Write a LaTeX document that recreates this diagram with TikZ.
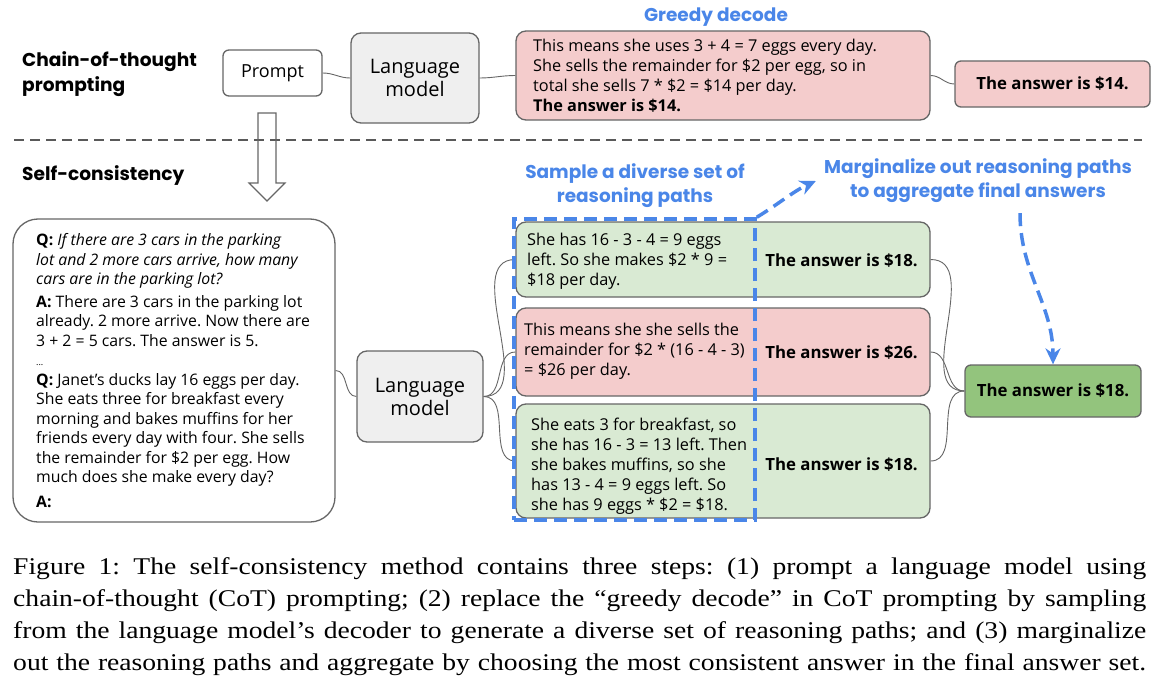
\documentclass[tikz,border=0pt]{standalone}
\usepackage{fontspec}
\setmainfont{Liberation Serif}
\setsansfont{Open Sans}
\newfontfamily\headfont{Poppins}
\newfontfamily\capfont[Ligatures=TeX, FakeStretch=1.15]{Liberation Serif}
\usetikzlibrary{arrows.meta}
\frenchspacing

\definecolor{pinkbox}{HTML}{F4CCCC}
\definecolor{greenbox}{HTML}{D9EAD3}
\definecolor{darkgreen}{HTML}{93C47D}
\definecolor{lmgray}{HTML}{EFEFEF}
\definecolor{edgegray}{HTML}{666666}
\definecolor{gblue}{HTML}{4A86E8}

\begin{document}
\begin{tikzpicture}[
      x=1pt, y=-1pt,
      font=\sffamily,
      every node/.style={inner sep=0pt},
      box/.style={draw=edgegray, line width=1.3pt, rounded corners=10pt},
      lmbox/.style={box, fill=lmgray, align=center, font=\sffamily\fontsize{20}{23}\selectfont},
      ansbox/.style={box, rounded corners=6pt, font=\sffamily\bfseries\fontsize{16.8}{20}\selectfont},
      bodytext/.style={anchor=west, align=left, font=\sffamily\fontsize{16.3}{20}\selectfont},
      anstext/.style={font=\sffamily\bfseries\fontsize{16.8}{20}\selectfont},
      heading/.style={anchor=west, align=left, font=\headfont\bfseries\fontsize{18.6}{25}\selectfont},
      bluelabel/.style={align=center, text=gblue, font=\headfont\bfseries\fontsize{18.5}{24}\selectfont},
      link/.style={draw=edgegray, line width=0.9pt},
      sepline/.style={draw=black!65, line width=1.8pt, dash pattern=on 10pt off 6pt},
      sampbox/.style={draw=gblue, line width=3.5pt, dash pattern=on 13pt off 7pt},
      bluearrow/.style={draw=gblue, line width=3.5pt, dash pattern=on 13pt off 7pt, -{Stealth[length=16pt,width=15pt]}},
      captext/.style={anchor=base west, font=\capfont\fontsize{24}{32}\selectfont}
    ]
      \useasboundingbox (0,0) rectangle (1154,685);

      % chain-of-thought row
      \node[heading] (cotlbl) at (22,74) {Chain-of-thought\\prompting};
      \node[box, fill=white, rounded corners=6pt, minimum width=99pt, minimum height=46pt,
        font=\sffamily\fontsize{18}{22}\selectfont] (prompt) at (272.5,73) {Prompt};
      \node[lmbox, minimum width=128pt, minimum height=90pt] (lmtop) at (415,78) {Language\\model};
      \node[bluelabel] (greedylbl) at (716,17) {Greedy decode};
      \node[box, fill=pinkbox, minimum width=414pt, minimum height=89pt] (greedy) at (723,75.5) {};
      \node[bodytext] (greedytxt) at (533,75.5)
        {This means she uses 3 + 4 = 7 eggs every day.\\
         She sells the remainder for \$2 per egg, so in\\
         total she sells 7 * \$2 = \$14 per day.\\
         \textbf{The answer is \$14.}};
      \node[ansbox, fill=pinkbox, minimum width=195pt, minimum height=46pt] (anstop) at (1052.5,84) {The answer is \$14.};

      \draw[link] (prompt.east) to[out=0,in=180] (lmtop.west);
      \draw[link] (lmtop.east) to[out=0,in=180] (greedy.west);
      \draw[link] (greedy.east) to[out=0,in=180] (anstop.west);

      \draw[sepline] (14,140) -- (1142,140);
      \draw[edgegray, line width=1.2pt]
        (258,113) -- (276,113) -- (276,183) -- (285,183) -- (267,201)
        -- (249,183) -- (258,183) -- cycle;

      % self-consistency row
      \node[heading] (sclbl) at (22,176) {Self-consistency};
      \node[box, fill=white, rounded corners=25pt, minimum width=322pt, minimum height=303pt] (question) at (174,370.5) {};
      \node[bodytext, font=\sffamily\fontsize{15.8}{19.5}\selectfont] (qtext) at (36,370.5)
        {\textbf{Q:} \textit{If there are 3 cars in the parking}\\
         \textit{lot and 2 more cars arrive, how many}\\
         \textit{cars are in the parking lot?}\\[3pt]
         \textbf{A:} There are 3 cars in the parking lot\\
         already. 2 more arrive. Now there are\\
         3 + 2 = 5 cars. The answer is 5.\\
         {\fontsize{9}{10}\selectfont ...}\\
         \textbf{Q:} Janet’s ducks lay 16 eggs per day.\\
         She eats three for breakfast every\\
         morning and bakes muffins for her\\
         friends every day with four. She sells\\
         the remainder for \$2 per egg. How\\
         much does she make every day?\\[5pt]
         \textbf{A:}};
      \node[lmbox, minimum width=126pt, minimum height=91pt] (lmbot) at (420,396.5) {Language\\model};

      \node[box, fill=greenbox, minimum width=414pt, minimum height=75pt] (path1) at (723,259.5) {};
      \node[box, fill=pinkbox, minimum width=414pt, minimum height=88pt] (path2) at (723,352) {};
      \node[box, fill=greenbox, minimum width=414pt, minimum height=114pt] (path3) at (723,461) {};
      \node[bodytext] (path1txt) at (527,261.5)
        {She has 16 - 3 - 4 = 9 eggs\\
         left. So she makes \$2 * 9 =\\
         \$18 per day.};
      \node[bodytext] (path2txt) at (524,351.5)
        {This means she she sells the\\
         remainder for \$2 * (16 - 4 - 3)\\
         = \$26 per day.};
      \node[bodytext] (path3txt) at (531,466)
        {She eats 3 for breakfast, so\\
         she has 16 - 3 = 13 left. Then\\
         she bakes muffins, so she\\
         has 13 - 4 = 9 eggs left. So\\
         she has 9 eggs * \$2 = \$18.};
      \node[anstext] (ans1) at (841.5,261) {The answer is \$18.};
      \node[anstext] (ans2) at (841.5,353) {The answer is \$26.};
      \node[anstext] (ans3) at (841.5,465) {The answer is \$18.};

      \node[ansbox, fill=darkgreen, minimum width=176pt, minimum height=52pt] (final) at (1053,391) {The answer is \$18.};

      \draw[link] (question.east) to[out=0,in=180] (lmbot.west);
      \foreach \p in {path1,path2,path3} {
        \draw[link] (lmbot.east) to[out=0,in=180] (\p.west);
        \draw[link] (\p.east) to[out=0,in=180] (final.west);
      }

      \node[sampbox, minimum width=241pt, minimum height=301pt] (sample) at (634.5,369.5) {};
      \node[bluelabel] (samplelbl) at (635,186) {Sample a diverse set of\\reasoning paths};
      \node[bluelabel] (marglbl) at (978,181) {Marginalize out reasoning paths\\to aggregate final answers};

      \draw[bluearrow] (sample.north east) .. controls +(20,-12) and +(-22,10) .. ([xshift=-8pt]marglbl.west);
      \draw[bluearrow] ([xshift=42pt,yshift=-10pt]marglbl.south) .. controls +(0,60) and +(0,-60) .. (final.north);

      % caption
      \node[captext] (cap1) at (13,574) {\makebox[1133pt][s]{Figure 1: The self-consistency method contains three steps: (1) prompt a language model using}};
      \node[captext] (cap2) at (13,606) {\makebox[1133pt][s]{chain-of-thought (CoT) prompting; (2) replace the ``greedy decode'' in CoT prompting by sampling}};
      \node[captext] (cap3) at (13,638) {\makebox[1133pt][s]{from the language model’s decoder to generate a diverse set of reasoning paths; and (3) marginalize}};
      \node[captext] (cap4) at (13,670) {\makebox[1133pt][s]{out the reasoning paths and aggregate by choosing the most consistent answer in the final answer set.}};
    \end{tikzpicture}
\end{document}
